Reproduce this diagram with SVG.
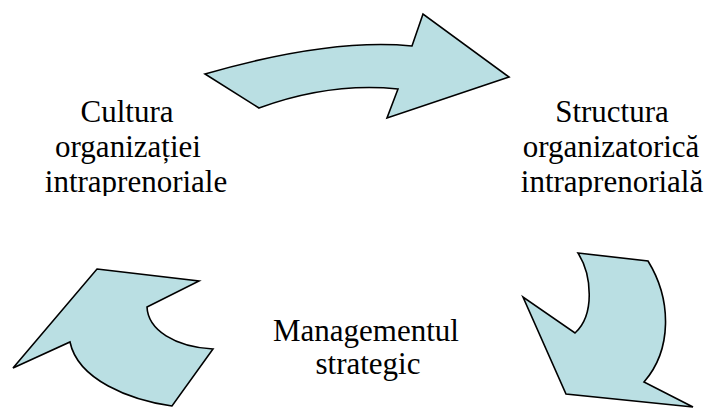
<svg xmlns="http://www.w3.org/2000/svg" width="708" height="416" viewBox="0 0 708 416">
  <style>
    .arrow { fill: #BADFE3; stroke: #000; stroke-width: 1.6; stroke-linejoin: miter; }
    .label { font-family: "Liberation Serif", "Times New Roman", serif; font-size: 31px; fill: #000; text-anchor: middle; }
  </style>
  <defs>
    <clipPath id="clipTop">
      <rect x="0" y="80" width="708" height="116"/>
    </clipPath>
  </defs>

  <g id="connectors">
    <!-- top: culture -> structure -->
    <path id="arrowTop" class="arrow" d="M205,74 Q330,38 412,46 L423,14 L509,77 L387,118 L398,89 Q330,82 259,108 Z"/>
    <!-- right: structure -> strategic management -->
    <path id="arrowRight" class="arrow" d="M578,253 L648,261 C672,300 672,350 644,382 L693,407 L566,394 L523,297 L575,333 C595,315 592,275 578,253 Z"/>
    <!-- left: strategic management -> culture -->
    <path id="arrowLeft" class="arrow" d="M97,269 L199,281 L147,307 C148,330 175,347 213,349 L172,406 C130,400 78,380 70,342 L13,368 Z"/>
  </g>

  <g id="cultura" clip-path="url(#clipTop)">
    <text class="label" x="127" y="122">Cultura</text>
    <text class="label" x="128" y="157">organizației</text>
    <text class="label" x="136" y="192">intraprenoriale</text>
  </g>

  <g id="structura" clip-path="url(#clipTop)">
    <text class="label" x="612" y="122">Structura</text>
    <text class="label" x="611" y="157">organizatorică</text>
    <text class="label" x="612" y="192">intraprenorială</text>
  </g>

  <g id="management">
    <text class="label" x="366" y="341">Managementul</text>
    <text class="label" x="368" y="374">strategic</text>
  </g>
</svg>
